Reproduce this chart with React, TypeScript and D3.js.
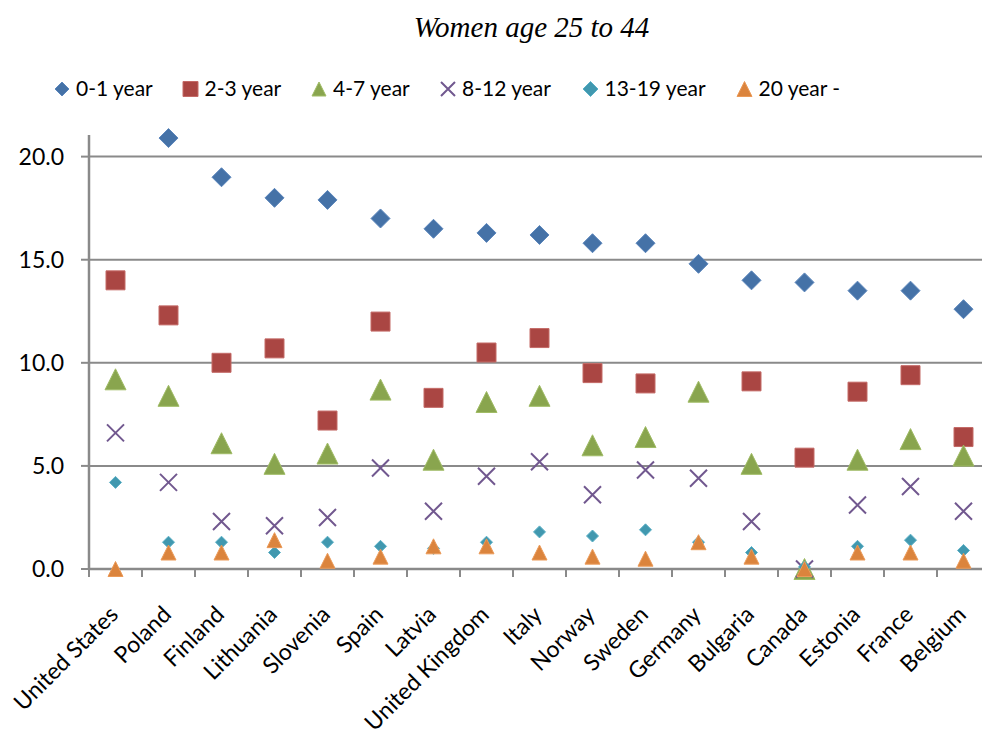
import React from "react";
import * as d3 from "d3";

const countries = [
  "United States", "Poland", "Finland", "Lithuania", "Slovenia", "Spain", "Latvia",
  "United Kingdom", "Italy", "Norway", "Sweden", "Germany", "Bulgaria", "Canada",
  "Estonia", "France", "Belgium",
];

const seriesNames = ["0-1 year", "2-3 year", "4-7 year", "8-12 year", "13-19 year", "20 year -"];

const y0to1 = [null, 20.9, 19.0, 18.0, 17.9, 17.0, 16.5, 16.3, 16.2, 15.8, 15.8, 14.8, 14.0, 13.9, 13.5, 13.5, 12.6];
const y2to3 = [14.0, 12.3, 10.0, 10.7, 7.2, 12.0, 8.3, 10.5, 11.2, 9.5, 9.0, null, 9.1, 5.4, 8.6, 9.4, 6.4];
const y4to7 = [9.2, 8.4, 6.1, 5.1, 5.6, 8.7, 5.3, 8.1, 8.4, 6.0, 6.4, 8.6, 5.1, 0.0, 5.3, 6.3, 5.5];
const y8to12 = [6.6, 4.2, 2.3, 2.1, 2.5, 4.9, 2.8, 4.5, 5.2, 3.6, 4.8, 4.4, 2.3, 0.0, 3.1, 4.0, 2.8];
const y13to19 = [4.2, 1.3, 1.3, 0.8, 1.3, 1.1, 1.0, 1.3, 1.8, 1.6, 1.9, 1.3, 0.8, 0.1, 1.1, 1.4, 0.9];
const y20plus = [0.0, 0.8, 0.8, 1.4, 0.4, 0.6, 1.1, 1.1, 0.8, 0.6, 0.5, 1.3, 0.6, 0.0, 0.8, 0.8, 0.4];

const yTicks = [0, 5, 10, 15, 20];

type Shape = "diamond" | "square" | "triangle" | "cross";

const seriesStyle: { values: (number | null)[]; shape: Shape; size: number; legendSize: number; color: string; stroke: string }[] = [
  { values: y0to1, shape: "diamond", size: 19, legendSize: 14, color: "#4572A7", stroke: "#5B86BC" },
  { values: y2to3, shape: "square", size: 19, legendSize: 15, color: "#AA4643", stroke: "#C46A67" },
  { values: y4to7, shape: "triangle", size: 21, legendSize: 14, color: "#89A54E", stroke: "#A0BC66" },
  { values: y8to12, shape: "cross", size: 17, legendSize: 14, color: "#71588F", stroke: "#71588F" },
  { values: y13to19, shape: "diamond", size: 12, legendSize: 15, color: "#4198AF", stroke: "#5AB0C6" },
  { values: y20plus, shape: "triangle", size: 15, legendSize: 15, color: "#DB843D", stroke: "#EB9A58" },
];

const W = 982;
const H = 731;
const plotLeft = 89;
const plotRight = 990;
const plotTop = 136;
const plotBottom = 569;

const x = d3.scaleBand<string>().domain(countries).range([plotLeft, plotRight]).padding(0);
const y = d3.scaleLinear().domain([0, 21]).range([plotBottom, plotTop]);

const labelFont = "Lato, 'Open Sans', sans-serif";
const axisColor = "#8A8A8A";

function shapePath(shape: Shape, s: number): string {
  const h = s / 2;
  const p = d3.path();
  if (shape === "diamond") {
    p.moveTo(0, -h); p.lineTo(h, 0); p.lineTo(0, h); p.lineTo(-h, 0); p.closePath();
  } else if (shape === "square") {
    p.rect(-h, -h, s, s);
  } else if (shape === "triangle") {
    p.moveTo(0, -h); p.lineTo(h, h); p.lineTo(-h, h); p.closePath();
  } else {
    p.moveTo(-h, -h); p.lineTo(h, h); p.moveTo(h, -h); p.lineTo(-h, h);
  }
  return p.toString();
}

function Marker({ shape, size, color, stroke }: { shape: Shape; size: number; color: string; stroke: string }) {
  if (shape === "cross") {
    return <path d={shapePath(shape, size)} fill="none" stroke={color} strokeWidth={2} />;
  }
  return <path d={shapePath(shape, size)} fill={color} stroke={stroke} strokeWidth={1} />;
}

const legendX = [62, 190.5, 319, 448, 590.5, 744.5];

export default function App() {
  const bw = x.bandwidth();
  return (
    <svg width={W} height={H} style={{ position: "absolute", left: 0, top: 0, background: "#fff" }}>
      <text x={531.5} y={37} textAnchor="middle" fontFamily="'Liberation Serif', 'Times New Roman', serif"
        fontStyle="italic" fontSize={29}>Women age 25 to 44</text>

      {/* legend */}
      {seriesStyle.map((s, i) => (
        <g key={seriesNames[i]}>
          <g transform={`translate(${legendX[i]},89)`}>
            <Marker shape={s.shape} size={s.legendSize} color={s.color} stroke={s.stroke} />
          </g>
          <text x={legendX[i] + 14} y={96} fontFamily={labelFont} fontSize={21}>{seriesNames[i]}</text>
        </g>
      ))}

      {/* gridlines */}
      {yTicks.filter(t => t > 0).map(t => (
        <line key={t} x1={plotLeft} x2={plotRight} y1={y(t)} y2={y(t)} stroke={axisColor} strokeWidth={2} />
      ))}

      {/* y axis */}
      <line x1={plotLeft} x2={plotLeft} y1={plotTop - 1} y2={plotBottom} stroke={axisColor} strokeWidth={2.5} />
      {yTicks.map(t => (
        <g key={t}>
          <line x1={plotLeft - 8} x2={plotLeft} y1={y(t)} y2={y(t)} stroke={axisColor} strokeWidth={2} />
          <text x={64} y={y(t) + 8} textAnchor="end" fontFamily={labelFont} fontSize={23}>{d3.format(".1f")(t)}</text>
        </g>
      ))}

      {/* x axis */}
      <line x1={plotLeft} x2={plotRight} y1={plotBottom} y2={plotBottom} stroke={axisColor} strokeWidth={2.5} />
      {countries.map(c => (
        <line key={c} x1={x(c)!} x2={x(c)!} y1={plotBottom} y2={plotBottom + 8} stroke={axisColor} strokeWidth={2} />
      ))}
      {countries.map(c => {
        const cx = x(c)! + bw / 2 + 4;
        const cy = 616;
        return (
          <text key={c} x={cx} y={cy} textAnchor="end" fontFamily={labelFont} fontSize={23}
            transform={`rotate(-45 ${cx} ${cy})`}>{c}</text>
        );
      })}

      {/* markers */}
      {seriesStyle.map((s, si) => (
        <g key={si}>
          {s.values.map((v, i) => v == null ? null : (
            <g key={i} transform={`translate(${x(countries[i])! + bw / 2},${y(v)})`}>
              <Marker shape={s.shape} size={s.size} color={s.color} stroke={s.stroke} />
            </g>
          ))}
        </g>
      ))}
    </svg>
  );
}
